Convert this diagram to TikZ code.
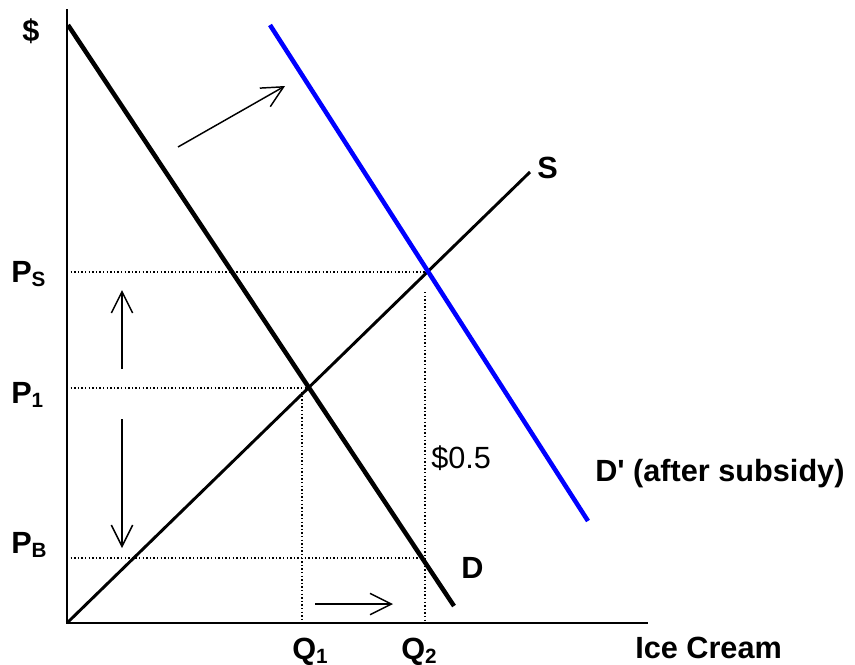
\documentclass[tikz,border=0pt]{standalone}
\usepackage{fontspec}
\setmainfont{Liberation Sans}[Ligatures=TeXOff]
\usetikzlibrary{arrows.meta}
\newcommand{\subtx}[1]{\raisebox{-3pt}{\fontsize{15.5}{16}\selectfont #1}}
\definecolor{shiftblue}{RGB}{0,0,255}
\begin{document}
\begin{tikzpicture}[x=0.75pt,y=-0.75pt,
  axis/.style={line width=1.4pt},
  demand/.style={line width=3.4pt},
  supply/.style={line width=2.2pt},
  guide/.style={line width=1.1pt, dash pattern=on 1.1pt off 1.6pt},
  shiftarrow/.style={line width=1.1pt, -{Straight Barb[length=16pt,width=16pt,line width=1.1pt]}},
  lbl/.style={inner sep=0pt, font=\fontsize{23}{26}\selectfont\bfseries, anchor=base west},
  ]
\useasboundingbox (0,0) rectangle (855,664);
% coordinates
\coordinate (O) at (67,623);
\coordinate (ytop) at (67,9);
\coordinate (xend) at (648,623);
\coordinate (d1) at (68,25);
\coordinate (d2) at (454,606);
\coordinate (dp1) at (270,25);
\coordinate (dp2) at (588,521);
\coordinate (s2) at (530,172);
\coordinate (psA) at (67,272);
\coordinate (psB) at (427,272);
\coordinate (p1A) at (67,388);
\coordinate (p1B) at (306,388);
\coordinate (pbA) at (67,558);
\coordinate (pbB) at (423,558);
\coordinate (q1A) at (302,392);
\coordinate (q1B) at (302,623);
\coordinate (q2A) at (425,292);
\coordinate (q2B) at (425,623);
\coordinate (upA) at (122,369);
\coordinate (upB) at (122,290);
\coordinate (dnA) at (122,419);
\coordinate (dnB) at (122,548);
\coordinate (rtA) at (315,604);
\coordinate (rtB) at (393,604);
\coordinate (dgA) at (178,147);
\coordinate (dgB) at (285,86);
% guides
\draw[guide] (psA) -- (psB);
\draw[guide] (p1A) -- (p1B);
\draw[guide] (pbA) -- (pbB);
\draw[guide] (q1A) -- (q1B);
\draw[guide] (q2A) -- (q2B);
% axes
\draw[axis] (ytop) -- (O) -- (xend);
% curves
\draw[supply] (O) -- (s2);
\draw[demand] (d1) -- (d2);
\draw[demand, shiftblue] (dp1) -- (dp2);
% arrows
\draw[shiftarrow] (upA) -- (upB);
\draw[shiftarrow] (dnA) -- (dnB);
\draw[shiftarrow] (rtA) -- (rtB);
\draw[shiftarrow] (dgA) -- (dgB);
% labels
\node[lbl, anchor=center] (dollar) at (31,31) {\$};
\node[lbl] (Slab) at (537,178) {S};
\node[lbl] (PS) at (11,282) {P\subtx{S}};
\node[lbl] (P1) at (11,403) {P\subtx{1}};
\node[lbl] (PB) at (11,553) {P\subtx{B}};
\node[lbl] (Dlab) at (461,578) {D};
\node[lbl] (Q1) at (292,659) {Q\subtx{1}};
\node[lbl] (Q2) at (401,659) {Q\subtx{2}};
\node[lbl] (IC) at (635,658) {Ice Cream};
\node[lbl] (Dp) at (595,481) {D' (after subsidy)};
\node[lbl, font=\fontsize{23}{26}\selectfont] (sub) at (431,468) {\$0.5};
\end{tikzpicture}
\end{document}
